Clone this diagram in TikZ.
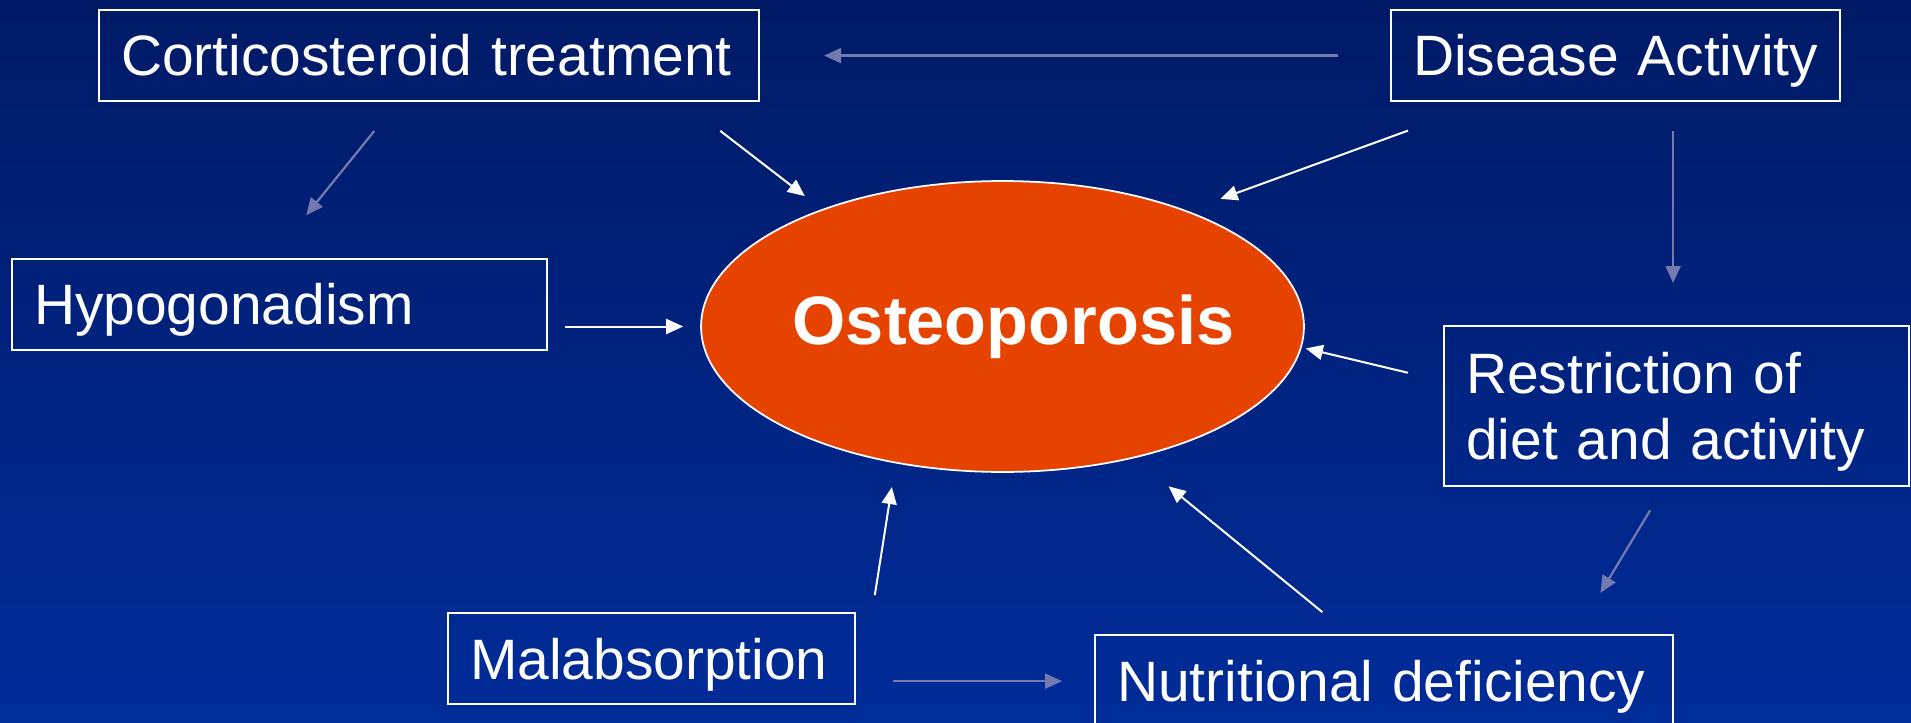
\documentclass[tikz,border=0pt]{standalone}
\usepackage{fontspec}
\setmainfont{Liberation Sans}
\usetikzlibrary{arrows.meta,calc,shapes.geometric}
\definecolor{TOPBG}{HTML}{001A66}
\definecolor{BOTBG}{HTML}{002C99}
\definecolor{ORANGE}{HTML}{E64200}
\definecolor{MUTE}{HTML}{7479B0}
\begin{document}
\begin{tikzpicture}[x=0.02cm,y=-0.02cm]
\tikzset{box/.style={draw=white,line width=0.045cm,anchor=north west,inner xsep=0.44cm,inner ysep=0pt,
  minimum height=1.82cm,text height=23.2pt,text depth=0pt,align=left,text=white,font=\fontsize{32.4}{37.6}\selectfont},
 oval/.style={ellipse,draw=white,line width=0.035cm,fill=ORANGE,minimum width=12.06cm,minimum height=5.82cm,inner sep=0pt},
 bigtxt/.style={text=white,font=\fontsize{39}{45}\selectfont\bfseries,text height=27.9pt,text depth=0pt,inner sep=0pt},
 warr/.style={-{Triangle[length=0.34cm,width=0.3cm]},line width=0.04cm,white},
 marr/.style={-{Triangle[length=0.34cm,width=0.3cm]},line width=0.045cm,MUTE}}
\useasboundingbox (0,0) rectangle (1911,723);
\shade[top color=TOPBG,bottom color=BOTBG] (0,0) rectangle (1911,723);
\node[box,text width=12.32cm] (cort) at (98,9) {Corticosteroid treatment};
\node[box,text width=8.1cm] (dis) at (1390,9) {Disease Activity};
\node[box,text width=9.82cm] (hypo) at (11,258) {Hypogonadism};
\node[box,text width=8.42cm,minimum height=3.2cm,text depth=37.6pt] (restr) at (1443,325) {Restriction of\\diet and activity};
\node[box,text width=7.26cm] (malab) at (447,612) {Malabsorption};
\node[box,text width=10.68cm,minimum height=1.84cm] (nutri) at (1094,634) {Nutritional deficiency};
\node[oval] (osteo) at (1002.5,326.5) {};
\node[bigtxt] (ostlbl) at (1013.5,320) {Osteoporosis};
\draw[marr,shorten <=1.04cm,shorten >=1.28cm] (dis) -- (cort);
\draw[marr,shorten <=0.74cm,shorten >=1.1cm] ([xshift=-0.63cm]cort.south) -- ([xshift=-0.16cm]hypo.north);
\draw[warr,shorten <=0.94cm,shorten >=0.43cm] ([xshift=-1.54cm]cort.south east) -- (osteo.147);
\draw[warr,shorten <=1.66cm,shorten >=0.7cm] ([xshift=1.92cm]dis.south west) -- (osteo.32);
\draw[marr,shorten <=0.58cm,shorten >=0.84cm] ([xshift=-0.07cm]dis.south -| restr.north) -- ([xshift=-0.07cm]restr.north);
\draw[warr,shorten <=0.34cm,shorten >=0.34cm] (hypo.east |- osteo.west) -- (osteo.west);
\draw[warr,shorten <=0.72cm,shorten >=0.085cm] ([yshift=0.5cm]restr.west) -- (osteo.-4);
\draw[marr,shorten <=0.54cm,shorten >=0.96cm] ([xshift=-0.25cm]restr.south) -- ([xshift=-1.97cm]nutri.north east);
\draw[warr,shorten <=0.69cm,shorten >=0.89cm] ([xshift=-0.7cm]nutri.north) -- (osteo.-45);
\draw[warr,shorten <=0.34cm,shorten >=0.48cm] ([xshift=0.32cm]malab.north east) -- (osteo.-128);
\draw[marr,shorten <=0.74cm,shorten >=0.64cm] (malab.east |- nutri.west) -- (nutri.west);
\end{tikzpicture}
\end{document}
